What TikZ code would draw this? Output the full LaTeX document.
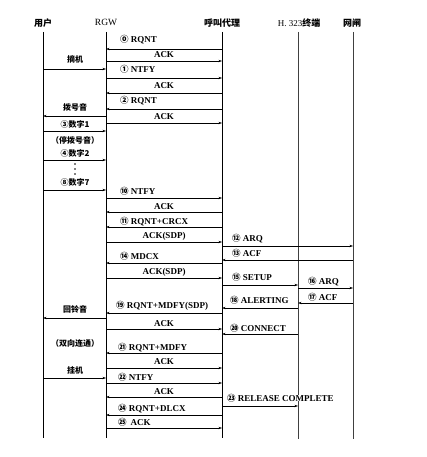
\documentclass[tikz,border=0pt]{standalone}
\usepackage{fontspec}
\setmainfont{Liberation Serif}
\newfontfamily\cjk{Noto Sans CJK SC}
\usetikzlibrary{arrows.meta}
\newcommand\cn[1]{{\cjk\bfseries\fontsize{8.5}{8.5}\selectfont #1}}
\newcommand\mymsg[4]{%
  \coordinate (#1s) at (#2 |- 0,#4);
  \coordinate (#1e) at (#3 |- 0,#4);
  \draw[msg] (#1s) -- (#1e);}
\begin{document}
\begin{tikzpicture}[x=1pt,y=-1pt,
  life/.style={line width=0.8pt},
  msg/.style={line width=0.55pt,-{Stealth[length=3.5pt,width=2.4pt]}},
  hdr/.style={font=\cjk\bfseries\fontsize{9}{9}\selectfont, inner sep=0},
  lbl/.style={font=\bfseries\fontsize{9}{9}\selectfont, inner sep=0, text height=6pt, text depth=0pt},
  clbl/.style={font=\cjk\bfseries\fontsize{8}{8}\selectfont, inner sep=0},
]
\useasboundingbox (0,0) rectangle (426,457);
% headers
\node[hdr] (hU) at (43,23) {用户};
\node[lbl,font=\fontsize{9.5}{9.5}\selectfont] (hR) at (106,23) {RGW};
\node[hdr] (hC) at (222,23) {呼叫代理};
\node[hdr,font=\fontsize{9}{9}\selectfont] (hH) at (299,23) {H. 323{\cjk\bfseries 终端}};
\node[hdr] (hG) at (352,23) {网闸};
% lifelines
\coordinate (U) at (43,32);  \coordinate (Ub) at (43,438);
\coordinate (R) at (106,32); \coordinate (Rb) at (106,438);
\coordinate (C) at (222,32); \coordinate (Cb) at (222,438);
\coordinate (H) at (298,32); \coordinate (Hb) at (298,439);
\coordinate (G) at (353,32); \coordinate (Gb) at (353,439);
\draw[life] (U) -- (Ub);
\draw[life] (R) -- (Rb);
\draw[life,line width=1pt] (C) -- (Cb);
\draw[life,black!75] (H) -- (Hb);
\draw[life,black!75] (G) -- (Gb);
% user <-> RGW
\mymsg{u1}{U}{R}{69}
\node[clbl] (t1) at (75,59) {摘机};
\mymsg{u2}{R}{U}{116}
\node[clbl] (t2) at (75,107) {拨号音};
\mymsg{u3}{U}{R}{131}
\node[clbl] (t3) at (75,124) {③数字1};
\node[clbl] (t4) at (75,140) {（停拨号音）};
\mymsg{u4}{U}{R}{160}
\node[clbl] (t5) at (75,153) {④数字2};
\fill (75,164) circle (0.8) (75,169) circle (0.8) (75,174) circle (0.8);
\mymsg{u5}{U}{R}{190}
\node[clbl] (t6) at (75,182) {⑧数字7};
\mymsg{u6}{R}{U}{318}
\node[clbl] (t7) at (75,309) {回铃音};
\node[clbl] (t8) at (75,343) {（双向连通）};
\mymsg{u7}{U}{R}{378}
\node[clbl] (t9) at (75,370) {挂机};
% RGW <-> CA
\mymsg{a1}{C}{R}{49}
\node[lbl,anchor=west] (m1) at (120,40) {\cn{⓪} RQNT};
\mymsg{a2}{R}{C}{61}
\node[lbl] (m2) at (164,55) {ACK};
\mymsg{a3}{R}{C}{78}
\node[lbl,anchor=west] (m3) at (120,70) {\cn{①} NTFY};
\mymsg{a4}{C}{R}{93}
\node[lbl] (m4) at (164,86) {ACK};
\mymsg{a5}{C}{R}{109}
\node[lbl,anchor=west] (m5) at (120,101) {\cn{②} RQNT};
\mymsg{a6}{R}{C}{123}
\node[lbl] (m6) at (164,117) {ACK};
\mymsg{a7}{R}{C}{198}
\node[lbl,anchor=west] (m7) at (120,191) {\cn{⑩} NTFY};
\mymsg{a8}{C}{R}{212}
\node[lbl] (m8) at (164,206) {ACK};
\mymsg{a9}{C}{R}{227}
\node[lbl,anchor=west] (m9) at (120,221) {\cn{⑪} RQNT+CRCX};
\mymsg{a10}{R}{C}{242}
\node[lbl] (m10) at (164,235) {ACK(SDP)};
\mymsg{a11}{C}{R}{263}
\node[lbl,anchor=west] (m11) at (120,256) {\cn{⑭} MDCX};
\mymsg{a12}{R}{C}{278}
\node[lbl] (m12) at (164,271) {ACK(SDP)};
\mymsg{a13}{C}{R}{313}
\node[lbl,anchor=west] (m13) at (116,305) {\cn{⑲} RQNT+MDFY(SDP)};
\mymsg{a14}{R}{C}{329}
\node[lbl] (m14) at (164,323) {ACK};
\mymsg{a15}{C}{R}{353}
\node[lbl,anchor=west] (m15) at (118,347) {\cn{㉑} RQNT+MDFY};
\mymsg{a16}{R}{C}{368}
\node[lbl] (m16) at (164,361) {ACK};
\mymsg{a17}{R}{C}{383}
\node[lbl,anchor=west] (m17) at (118,377) {\cn{㉒} NTFY};
\mymsg{a18}{C}{R}{397}
\node[lbl] (m18) at (164,391) {ACK};
\mymsg{a19}{C}{R}{415}
\node[lbl,anchor=west] (m19) at (118,408) {\cn{㉔} RQNT+DLCX};
\mymsg{a20}{R}{C}{428}
\node[lbl,anchor=west] (m20) at (118,422) {\cn{㉕}\hspace{4pt}ACK};
% CA <-> H.323 / gatekeeper
\mymsg{b1}{C}{G}{246}
\node[lbl,anchor=west] (n1) at (232,238) {\cn{⑫} ARQ};
\mymsg{b2}{G}{C}{260}
\node[lbl,anchor=west] (n2) at (232,253) {\cn{⑬} ACF};
\mymsg{b3}{C}{H}{285}
\node[lbl,anchor=west] (n3) at (232,277) {\cn{⑮} SETUP};
\mymsg{b4}{H}{G}{288}
\node[lbl,anchor=west] (n4) at (308,281) {\cn{⑯} ARQ};
\mymsg{b5}{G}{H}{303}
\node[lbl,anchor=west] (n5) at (308,297) {\cn{⑰} ACF};
\mymsg{b6}{H}{C}{308}
\node[lbl,anchor=west] (n6) at (230,300) {\cn{⑱} ALERTING};
\mymsg{b7}{H}{C}{334}
\node[lbl,anchor=west] (n7) at (230,328) {\cn{⑳} CONNECT};
\mymsg{b8}{C}{H}{406}
\node[lbl,anchor=west,fill=white,inner xsep=1pt] (n8) at (226,398) {\cn{㉓} RELEASE COMPLETE};
\end{tikzpicture}
\end{document}
